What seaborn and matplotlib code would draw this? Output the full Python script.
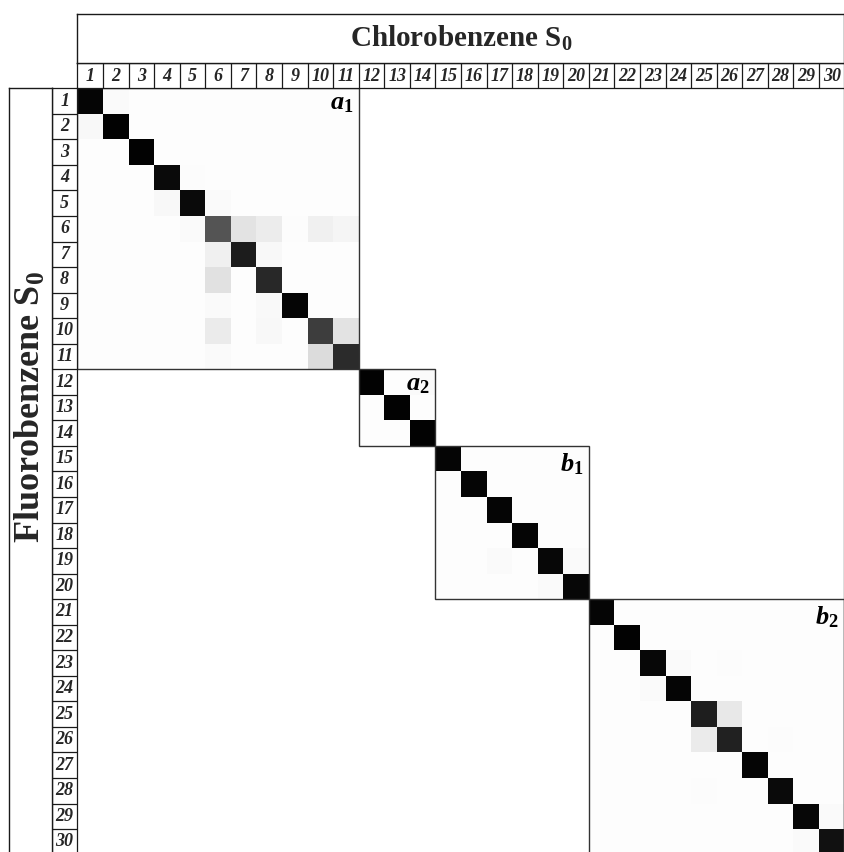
import numpy as np
import pandas as pd
import matplotlib
matplotlib.use("Agg")
import matplotlib.pyplot as plt
from matplotlib.patches import Rectangle
import seaborn as sns

# ---- data -------------------------------------------------------------
n_states = 30
state_labels = [str(i) for i in range(1, n_states + 1)]

# diagonal overlap for each state pair (i, i)
diagonal = [0.98, 0.99, 0.99, 0.96, 0.96, 0.67, 0.89, 0.84, 0.98, 0.76,
            0.83, 0.99, 0.99, 0.99, 0.98, 0.98, 0.98, 0.98, 0.97, 0.97,
            0.98, 0.99, 0.97, 0.98, 0.88, 0.87, 0.98, 0.96, 0.97, 0.93]

# off-diagonal couplings: (row state, column state, value)
off_diagonal = [
    (1, 2, 0.02), (2, 1, 0.03),
    (4, 5, 0.015), (5, 4, 0.03), (5, 6, 0.02),
    (6, 5, 0.02), (6, 7, 0.11), (6, 8, 0.075), (6, 9, 0.015),
    (6, 10, 0.06), (6, 11, 0.04),
    (7, 5, 0.01), (7, 6, 0.06), (7, 8, 0.03),
    (8, 6, 0.12),
    (9, 6, 0.02), (9, 8, 0.025),
    (10, 6, 0.08), (10, 8, 0.03), (10, 11, 0.11),
    (11, 6, 0.02), (11, 10, 0.14),
    (12, 14, 0.02),
    (19, 17, 0.02), (19, 20, 0.02), (20, 19, 0.02),
    (23, 24, 0.02), (23, 26, 0.015), (24, 23, 0.02),
    (25, 26, 0.09), (26, 25, 0.08), (26, 28, 0.015),
    (28, 25, 0.015), (29, 30, 0.02), (30, 29, 0.02),
]

# symmetry blocks: (first state, last state, label)
block_first = [1, 12, 15, 21]
block_last = [11, 14, 20, 30]
block_names = ["a", "a", "b", "b"]
block_index = ["1", "2", "1", "2"]
block_floor = 0.01  # faint background level inside a block

title_top = "Chlorobenzene S$_0$"
title_left = "Fluorobenzene S$_0$"

# ---- matrix -----------------------------------------------------------
matrix = np.zeros((n_states, n_states))
for a, b in zip(block_first, block_last):
    matrix[a - 1:b, a - 1:b] = block_floor
for r, c, v in off_diagonal:
    matrix[r - 1, c - 1] = v
for i, v in enumerate(diagonal):
    matrix[i, i] = v
df = pd.DataFrame(matrix, index=state_labels, columns=state_labels)

# ---- style ------------------------------------------------------------
sns.set_theme(style="white")
plt.rcParams["font.family"] = ["Liberation Serif", "DejaVu Serif"]
plt.rcParams["mathtext.fontset"] = "custom"
plt.rcParams["mathtext.rm"] = "Liberation Serif:bold"
plt.rcParams["mathtext.bf"] = "Liberation Serif:bold"
plt.rcParams["mathtext.it"] = "Liberation Serif:italic:bold"

W, H = 845, 852
fig = plt.figure(figsize=(W / 100, H / 100), dpi=100)
fig.patch.set_facecolor("white")


def place(x0, y0, x1, y1):
    return fig.add_axes([x0 / W, 1 - y1 / H, (x1 - x0) / W, (y1 - y0) / H])


LEFT, RIGHT = 77.5, 844.5
TOP, BOTTOM = 88.3, 854.6
line_kw = dict(color="#1a1a1a", lw=0.9)

# ---- heatmap ----------------------------------------------------------
ax = place(LEFT, TOP, RIGHT, BOTTOM)
sns.heatmap(df, ax=ax, cmap="gray_r", vmin=0, vmax=1, cbar=False,
            xticklabels=False, yticklabels=False, square=False)
ax.set_xlabel("")
ax.set_ylabel("")
ax.set_xlim(0, n_states)
ax.set_ylim(n_states, 0)
ax.axvline(n_states, color="#555555", lw=1.0, clip_on=False)

for a, b, nm, idx in zip(block_first, block_last, block_names, block_index):
    ax.add_patch(Rectangle((a - 1, a - 1), b - a + 1, b - a + 1,
                           fill=False, edgecolor="#333333", lw=1.0,
                           clip_on=False, zorder=5))
    ax.text(b - 0.22, a - 1 + 0.2, f"${nm}_{{{idx}}}$", ha="right", va="top",
            fontsize=19, color="black", zorder=6)

# ---- column header ----------------------------------------------------
axc = place(LEFT, 62.7, RIGHT, TOP)
axc.set_xlim(0, n_states)
axc.set_ylim(0, 1)
axc.set_xticks([])
axc.set_yticks([])
for s in axc.spines.values():
    s.set_visible(True)
    s.set_color("#1a1a1a")
    s.set_linewidth(0.9)
for k in range(1, n_states):
    axc.axvline(k, **line_kw)
for k, lab in enumerate(state_labels):
    axc.text(k + 0.5, 0.47, lab, ha="center", va="center", fontsize=13,
             fontweight="bold", fontstyle="italic")

axt = place(LEFT, 13.7, RIGHT, 62.7)
axt.set_xticks([])
axt.set_yticks([])
for s in axt.spines.values():
    s.set_visible(True)
    s.set_color("#1a1a1a")
    s.set_linewidth(1.0)
axt.text(0.5, 0.5, title_top, ha="center", va="center", fontsize=21,
         fontweight="bold", transform=axt.transAxes)

# ---- row header -------------------------------------------------------
axr = place(51.7, TOP, LEFT, BOTTOM)
axr.set_xlim(0, 1)
axr.set_ylim(n_states, 0)
axr.set_xticks([])
axr.set_yticks([])
for s in axr.spines.values():
    s.set_visible(True)
    s.set_color("#1a1a1a")
    s.set_linewidth(0.9)
for k in range(1, n_states):
    axr.axhline(k, **line_kw)
for k, lab in enumerate(state_labels):
    axr.text(0.5, k + 0.5, lab, ha="center", va="center", fontsize=13,
             fontweight="bold", fontstyle="italic")

axl = place(9.3, TOP, 51.7, BOTTOM)
axl.set_xticks([])
axl.set_yticks([])
for s in axl.spines.values():
    s.set_visible(True)
    s.set_color("#1a1a1a")
    s.set_linewidth(1.0)
axl.text(0.52, 1 - (407 - TOP) / (BOTTOM - TOP), title_left, ha="center",
         va="center", rotation=90, fontsize=26, fontweight="bold",
         transform=axl.transAxes)

fig.savefig("out.png", dpi=100, facecolor="white")
